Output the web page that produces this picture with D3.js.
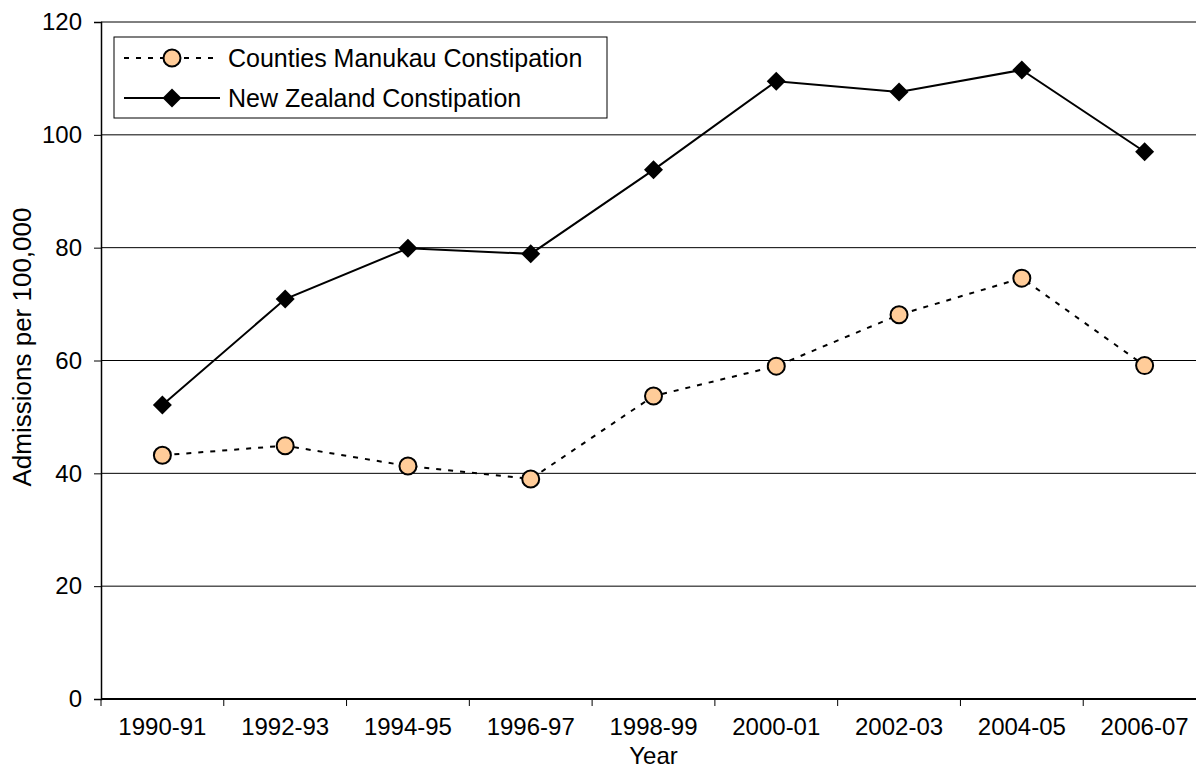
<!DOCTYPE html>
<html>
<head>
<meta charset="utf-8">
<script src="https://cdn.jsdelivr.net/npm/d3@7"></script>
<style>
  html, body { margin: 0; padding: 0; background: #fff; overflow: hidden; }
  svg { display: block; font-family: "Liberation Sans", Arial, sans-serif; }
</style>
</head>
<body>
<svg id="chart" width="1196" height="769"></svg>
<script>
// ── data ──
const years = ["1990-91", "1992-93", "1994-95", "1996-97", "1998-99",
  "2000-01", "2002-03", "2004-05", "2006-07"];
const countiesManukau = [43.2, 44.9, 41.3, 39.0, 53.7, 59.0, 68.1, 74.6, 59.1];
const newZealand = [52.1, 70.9, 79.9, 78.9, 93.8, 109.5, 107.6, 111.5, 97.0];
const yTicks = [0, 20, 40, 60, 80, 100, 120];
const seriesNames = ["Counties Manukau Constipation", "New Zealand Constipation"];

const W = 1196, H = 769,
  M = { t: 22, r: -10, b: 70, l: 101 },
  w = W - M.l - M.r,
  h = H - M.t - M.b;
const FS = 24;

const svg = d3.select("#chart");
const g = svg.append("g").attr("transform", `translate(${M.l},${M.t})`);

const x = d3.scaleBand().domain(years).range([0, w]).padding(0);
const y = d3.scaleLinear().domain([0, 120]).range([h, 0]);
const cx = (d) => x(d) + x.bandwidth() / 2;

// gridlines
g.append("g")
  .selectAll("line")
  .data(yTicks.filter((t) => t > 0))
  .enter()
  .append("line")
  .attr("x1", 0)
  .attr("x2", w)
  .attr("y1", (d) => y(d))
  .attr("y2", (d) => y(d))
  .attr("stroke", "#000")
  .attr("stroke-width", 1);

// y axis
const ya = g.append("g")
  .call(d3.axisLeft(y).tickValues(yTicks).tickSize(7).tickPadding(12));
ya.select(".domain").attr("stroke", "#000").attr("stroke-width", 1.5);
ya.selectAll(".tick line").attr("stroke", "#000");
ya.selectAll("text").attr("font-size", FS + "px").attr("fill", "#000")
  .attr("font-family", "Liberation Sans, Arial, sans-serif");

// x axis (ticks at band boundaries)
const xa = g.append("g").attr("transform", `translate(0,${h})`);
xa.append("line").attr("x1", 0).attr("x2", w).attr("stroke", "#000").attr("stroke-width", 2);
xa.selectAll(".xt")
  .data(years.concat(["__end"]))
  .enter()
  .append("line")
  .attr("class", "xt")
  .attr("x1", (d, i) => i * x.bandwidth())
  .attr("x2", (d, i) => i * x.bandwidth())
  .attr("y1", 0)
  .attr("y2", 7)
  .attr("stroke", "#000");
xa.selectAll(".xl")
  .data(years)
  .enter()
  .append("text")
  .attr("class", "xl")
  .attr("x", (d) => cx(d))
  .attr("y", 36)
  .attr("text-anchor", "middle")
  .attr("font-size", FS + "px")
  .text((d) => d);

// axis titles
svg.append("text")
  .attr("transform", `translate(31,347) rotate(-90)`)
  .attr("text-anchor", "middle")
  .attr("font-size", "26px")
  .text("Admissions per 100,000");
svg.append("text")
  .attr("x", M.l + w / 2)
  .attr("y", 764)
  .attr("text-anchor", "middle")
  .attr("font-size", FS + "px")
  .text("Year");

// lines
const line = d3.line().x((d, i) => cx(years[i])).y((d) => y(d));
g.append("path")
  .datum(countiesManukau)
  .attr("d", line)
  .attr("fill", "none")
  .attr("stroke", "#000")
  .attr("stroke-width", 2)
  .attr("stroke-dasharray", "5,7");
g.append("path")
  .datum(newZealand)
  .attr("d", line)
  .attr("fill", "none")
  .attr("stroke", "#000")
  .attr("stroke-width", 2);

const diamond = (r) => `M0,${-r}L${r},0L0,${r}L${-r},0Z`;

g.selectAll(".cm")
  .data(countiesManukau)
  .enter()
  .append("circle")
  .attr("class", "cm")
  .attr("cx", (d, i) => cx(years[i]))
  .attr("cy", (d) => y(d))
  .attr("r", 8.5)
  .attr("fill", "#FFCC99")
  .attr("stroke", "#000")
  .attr("stroke-width", 2);
g.selectAll(".nz")
  .data(newZealand)
  .enter()
  .append("path")
  .attr("class", "nz")
  .attr("transform", (d, i) => `translate(${cx(years[i])},${y(d)})`)
  .attr("d", diamond(9.5))
  .attr("fill", "#000");

// legend
const lg = svg.append("g").attr("transform", "translate(114,37)");
lg.append("rect")
  .attr("width", 493)
  .attr("height", 81)
  .attr("fill", "#fff")
  .attr("stroke", "#000")
  .attr("stroke-width", 1);
const rows = lg.selectAll(".row")
  .data(seriesNames)
  .enter()
  .append("g")
  .attr("transform", (d, i) => `translate(0,${21 + i * 40})`);
rows.append("line")
  .attr("x1", 10)
  .attr("x2", 106)
  .attr("stroke", "#000")
  .attr("stroke-width", 2)
  .attr("stroke-dasharray", (d, i) => (i === 0 ? "5,7" : null));
rows.filter((d, i) => i === 0)
  .append("circle")
  .attr("cx", 58)
  .attr("r", 8.5)
  .attr("fill", "#FFCC99")
  .attr("stroke", "#000")
  .attr("stroke-width", 2);
rows.filter((d, i) => i === 1)
  .append("path")
  .attr("transform", "translate(58,0)")
  .attr("d", diamond(9.5))
  .attr("fill", "#000");
rows.append("text")
  .attr("x", 114)
  .attr("dy", "0.35em")
  .attr("font-size", "25px")
  .text((d) => d);
</script>
</body>
</html>
